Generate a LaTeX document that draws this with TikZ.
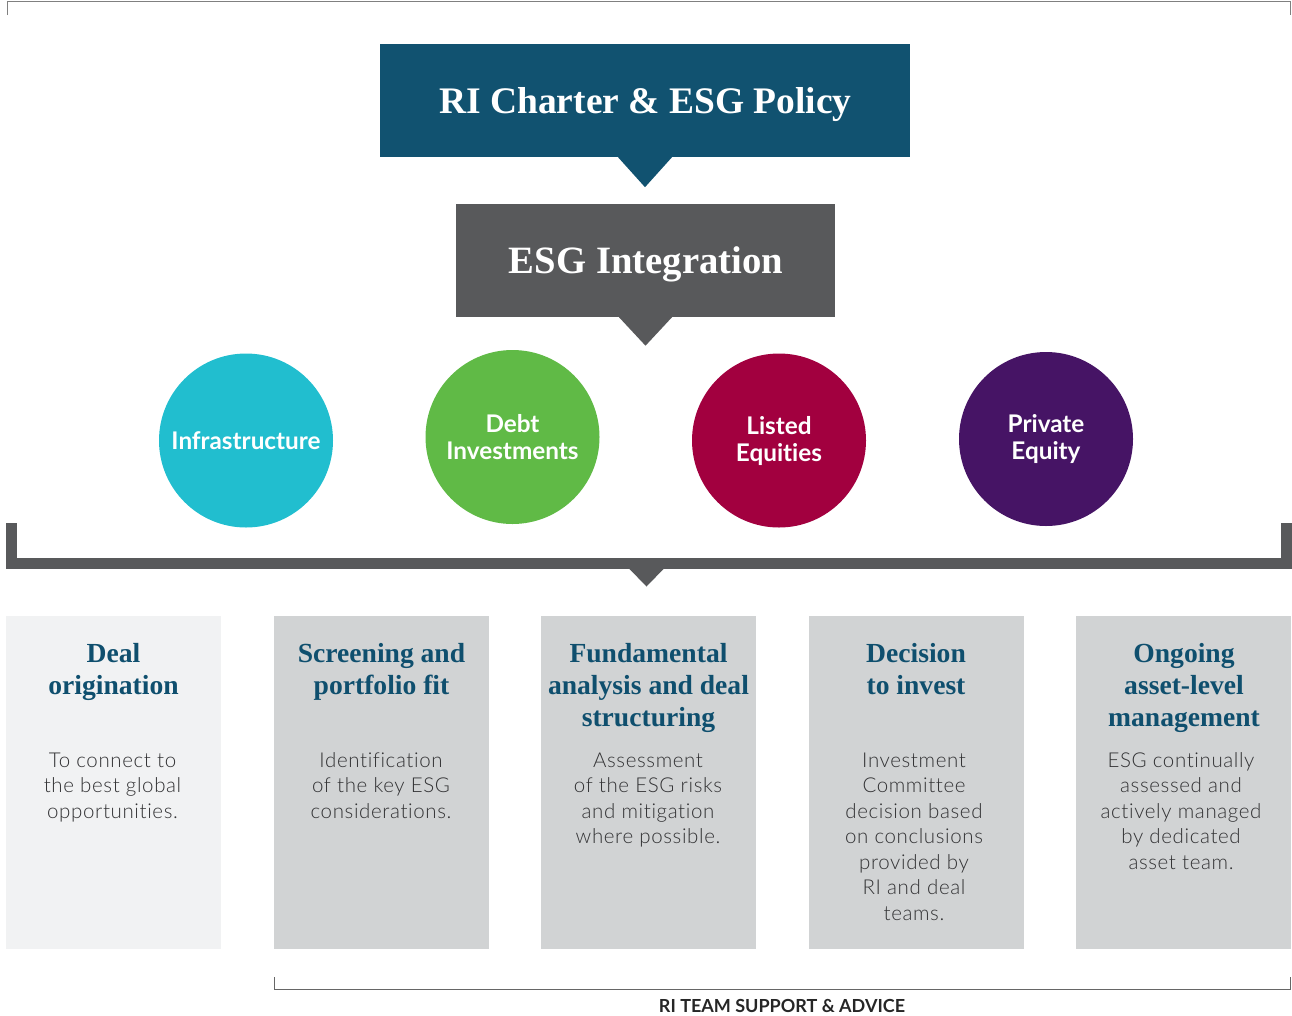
\documentclass[tikz,border=0pt]{standalone}
\usepackage{fontspec}
\setmainfont{Liberation Serif}
\newfontfamily\lightsans{Lato Light}[LetterSpace=3, Ligatures=NoCommon]
\newfontfamily\latof{Lato}[Ligatures=NoCommon]
\usetikzlibrary{calc}
\definecolor{blueC}{HTML}{115270}
\definecolor{grayC}{HTML}{58595B}
\definecolor{tealC}{HTML}{21BECF}
\definecolor{greenC}{HTML}{60BA46}
\definecolor{crimC}{HTML}{A2003F}
\definecolor{purpC}{HTML}{461465}
\definecolor{lightbox}{HTML}{F1F2F3}
\definecolor{greybox}{HTML}{D1D3D4}
\definecolor{titleC}{HTML}{0F4F6E}
\definecolor{bodyC}{HTML}{333335}
\definecolor{lineC}{HTML}{808080}
\begin{document}
\begin{tikzpicture}[x=1pt,y=-1pt,
  headbox/.style={rectangle, inner sep=0pt, minimum height=113pt},
  headtxt/.style={anchor=base, inner sep=0pt, text=white, font=\bfseries\fontsize{37.5}{40}\selectfont},
  sector/.style={circle, inner sep=0pt, minimum size=174pt, text=white, align=center,
    font=\latof\bfseries\fontsize{24.3}{27}\selectfont},
  stagebox/.style={rectangle, inner sep=0pt, minimum width=215pt, minimum height=332.5pt, fill=greybox},
  stagetitle/.style={anchor=base, inner sep=0pt, align=center, text=titleC,
    font=\bfseries\fontsize{27.6}{32}\selectfont},
  stagebody/.style={anchor=base, inner sep=0pt, align=center, text=bodyC,
    font=\lightsans\fontsize{20.5}{25.5}\selectfont},
  bracketthin/.style={draw=lineC, line width=1.5pt}
]
\useasboundingbox (0,0) rectangle (1292,1015);

% top frame line
\coordinate (tl) at (7.5,15);
\coordinate (tr) at (1290.5,15);
\draw[bracketthin] (tl) -- ++(0,-13.5) -| (tr);

% RI Charter box
\node[headbox, minimum width=530pt, fill=blueC] (charter) at (645,100.5) {};
\node[headtxt] (chartertxt) at (645.5,113) {RI Charter \& ESG Policy};
\fill[blueC] ([xshift=-27pt]charter.south) -- ([xshift=27pt]charter.south) -- ($(charter.south)+(0,30)$) -- cycle;

% ESG Integration box
\node[headbox, minimum width=379pt, fill=grayC] (esg) at (645.5,260) {};
\node[headtxt, font=\bfseries\fontsize{38.7}{40}\selectfont] (esgtxt) at (646,273) {ESG Integration};
\fill[grayC] ([xshift=-27pt]esg.south) -- ([xshift=27pt]esg.south) -- ($(esg.south)+(0,29)$) -- cycle;

% sector circles
\node[sector, fill=tealC] (infra) at (246,440.5) {Infrastructure};
\node[sector, fill=greenC] (debt) at (512.5,437) {Debt\\Investments};
\node[sector, fill=crimC] (listed) at (779,440.5) {Listed\\Equities};
\node[sector, fill=purpC] (private) at (1046,439) {Private\\Equity};

% thick bracket
\coordinate (bl) at (11.5,523);
\coordinate (br) at (1286.5,523);
\coordinate (bm) at (646.5,563.5);
\draw[grayC, line width=11pt] (bl) |- (bm) -| (br);
\fill[grayC] ($(bm)+(-17.5,5)$) -- ($(bm)+(17.5,5)$) -- ($(bm)+(0,23)$) -- cycle;

% stage boxes
\node[stagebox, fill=lightbox] (s1) at (113.5,782.25) {};
\node[stagebox] (s2) at (381.5,782.25) {};
\node[stagebox] (s3) at (648.5,782.25) {};
\node[stagebox] (s4) at (916,782.25) {};
\node[stagebox] (s5) at (1183.5,782.25) {};

% titles (base anchor = last line baseline)
\node[stagetitle] (t1) at (113.5,694) {Deal\\origination};
\node[stagetitle] (t2) at (381.5,694) {Screening and\\portfolio fit};
\node[stagetitle] (t3) at (648.5,726) {Fundamental\\analysis and deal\\structuring};
\node[stagetitle] (t4) at (916,694) {Decision\\to invest};
\node[stagetitle] (t5) at (1184,726) {Ongoing\\asset-level\\management};

% body texts (first baseline 767, step 25.5)
\node[stagebody] (b1) at (112.5,818) {To connect to\\the best global\\opportunities.};
\node[stagebody] (b2) at (381,818) {Identification\\of the key ESG\\considerations.};
\node[stagebody] (b3) at (648,843.5) {Assessment\\of the ESG risks\\and mitigation\\where possible.};
\node[stagebody] (b4) at (914,920) {Investment\\Committee\\decision based\\on conclusions\\provided by\\RI and deal\\teams.};
\node[stagebody] (b5) at (1181,869) {ESG continually\\assessed and\\actively managed\\by dedicated\\asset team.};

% bottom bracket
\coordinate (ql) at (274.5,977);
\coordinate (qr) at (1290.5,977);
\draw[bracketthin, draw=black!60] (ql) -- ++(0,12.5) -| (qr);
\node[anchor=base, inner sep=0pt, text depth=0pt, text=black!85, font=\latof\bfseries\fontsize{18}{20}\selectfont] (support) at (782,1012.5) {RI TEAM SUPPORT \& ADVICE};
\end{tikzpicture}
\end{document}
